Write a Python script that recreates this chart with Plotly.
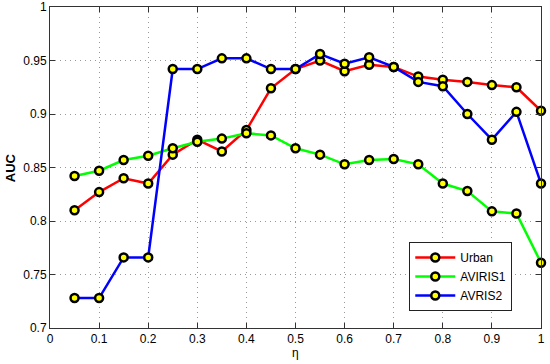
import plotly.graph_objects as go

# eta values shared by all three curves
eta = [0.05, 0.1, 0.15, 0.2, 0.25, 0.3, 0.35, 0.4, 0.45, 0.5,
       0.55, 0.6, 0.65, 0.7, 0.75, 0.8, 0.85, 0.9, 0.95, 1.0]

urban = [0.810, 0.827, 0.840, 0.835, 0.862, 0.876, 0.865, 0.885, 0.924, 0.942,
         0.950, 0.940, 0.946, 0.944, 0.935, 0.932, 0.930, 0.927, 0.925, 0.903]
aviris1 = [0.842, 0.847, 0.857, 0.861, 0.868, 0.874, 0.877, 0.882, 0.880, 0.868,
           0.862, 0.853, 0.857, 0.858, 0.853, 0.835, 0.828, 0.809, 0.807, 0.761]
avris2 = [0.728, 0.728, 0.766, 0.766, 0.942, 0.942, 0.952, 0.952, 0.942, 0.942,
          0.956, 0.947, 0.953, 0.944, 0.930, 0.926, 0.900, 0.876, 0.902, 0.835]

# tick positions and labels
x_ticks = [0, 0.1, 0.2, 0.3, 0.4, 0.5, 0.6, 0.7, 0.8, 0.9, 1]
x_labels = ['0', '0.1', '0.2', '0.3', '0.4', '0.5', '0.6', '0.7', '0.8', '0.9', '1']
y_ticks = [0.7, 0.75, 0.8, 0.85, 0.9, 0.95, 1]
y_labels = ['0.7', '0.75', '0.8', '0.85', '0.9', '0.95', '1']

series = [('Urban', urban, '#ff0000'),
          ('AVIRIS1', aviris1, '#00ff00'),
          ('AVRIS2', avris2, '#0000ff')]

fig = go.Figure()
for name, vals, col in series:
    fig.add_trace(go.Scatter(
        x=eta, y=vals, name=name, mode='lines+markers', cliponaxis=False,
        line=dict(color=col, width=2.5),
        marker=dict(color='#ffff00', size=8, line=dict(color='black', width=2.5))
    ))

axis_style = dict(
    showgrid=True, gridcolor='#999999', griddash='1px,4px', gridwidth=1,
    showline=True, linecolor='#333333', linewidth=1, mirror='ticks',
    ticks='inside', ticklen=5, tickcolor='#333333', zeroline=False,
    automargin=False, ticklabeloverflow='allow',
    tickfont=dict(family='Liberation Sans, Arial', size=12, color='black')
)

fig.update_xaxes(range=[0, 1], tickvals=x_ticks, ticktext=x_labels, **axis_style)
fig.update_yaxes(range=[0.7, 1.0000001], tickvals=y_ticks, ticktext=y_labels, **axis_style)

# axis titles as annotations so they sit where the original puts them
fig.add_annotation(text='η', xref='paper', yref='paper', x=0.5, y=-0.078,
                   yanchor='middle', showarrow=False,
                   font=dict(family='Liberation Sans', size=12, color='black'))
fig.add_annotation(text='<b>AUC</b>', xref='paper', yref='paper', x=-0.08, y=0.5,
                   textangle=-90, xanchor='center', showarrow=False,
                   font=dict(family='Liberation Sans', size=13, color='black'))

fig.update_layout(
    width=550, height=364,
    margin=dict(l=50, r=9, t=7, b=36),
    paper_bgcolor='white', plot_bgcolor='white',
    legend=dict(x=0.9415, y=0.053, xanchor='right', yanchor='bottom',
                bgcolor='white', bordercolor='#222222', borderwidth=1,
                font=dict(family='Liberation Sans', size=12, color='black'),
                tracegroupgap=0, itemwidth=40),
    showlegend=True
)

# drop the browser's default 8px page margin so the figure fills the window
fig.write_html('out.html', config={'displayModeBar': False},
               post_script="document.body.style.margin='0';")
